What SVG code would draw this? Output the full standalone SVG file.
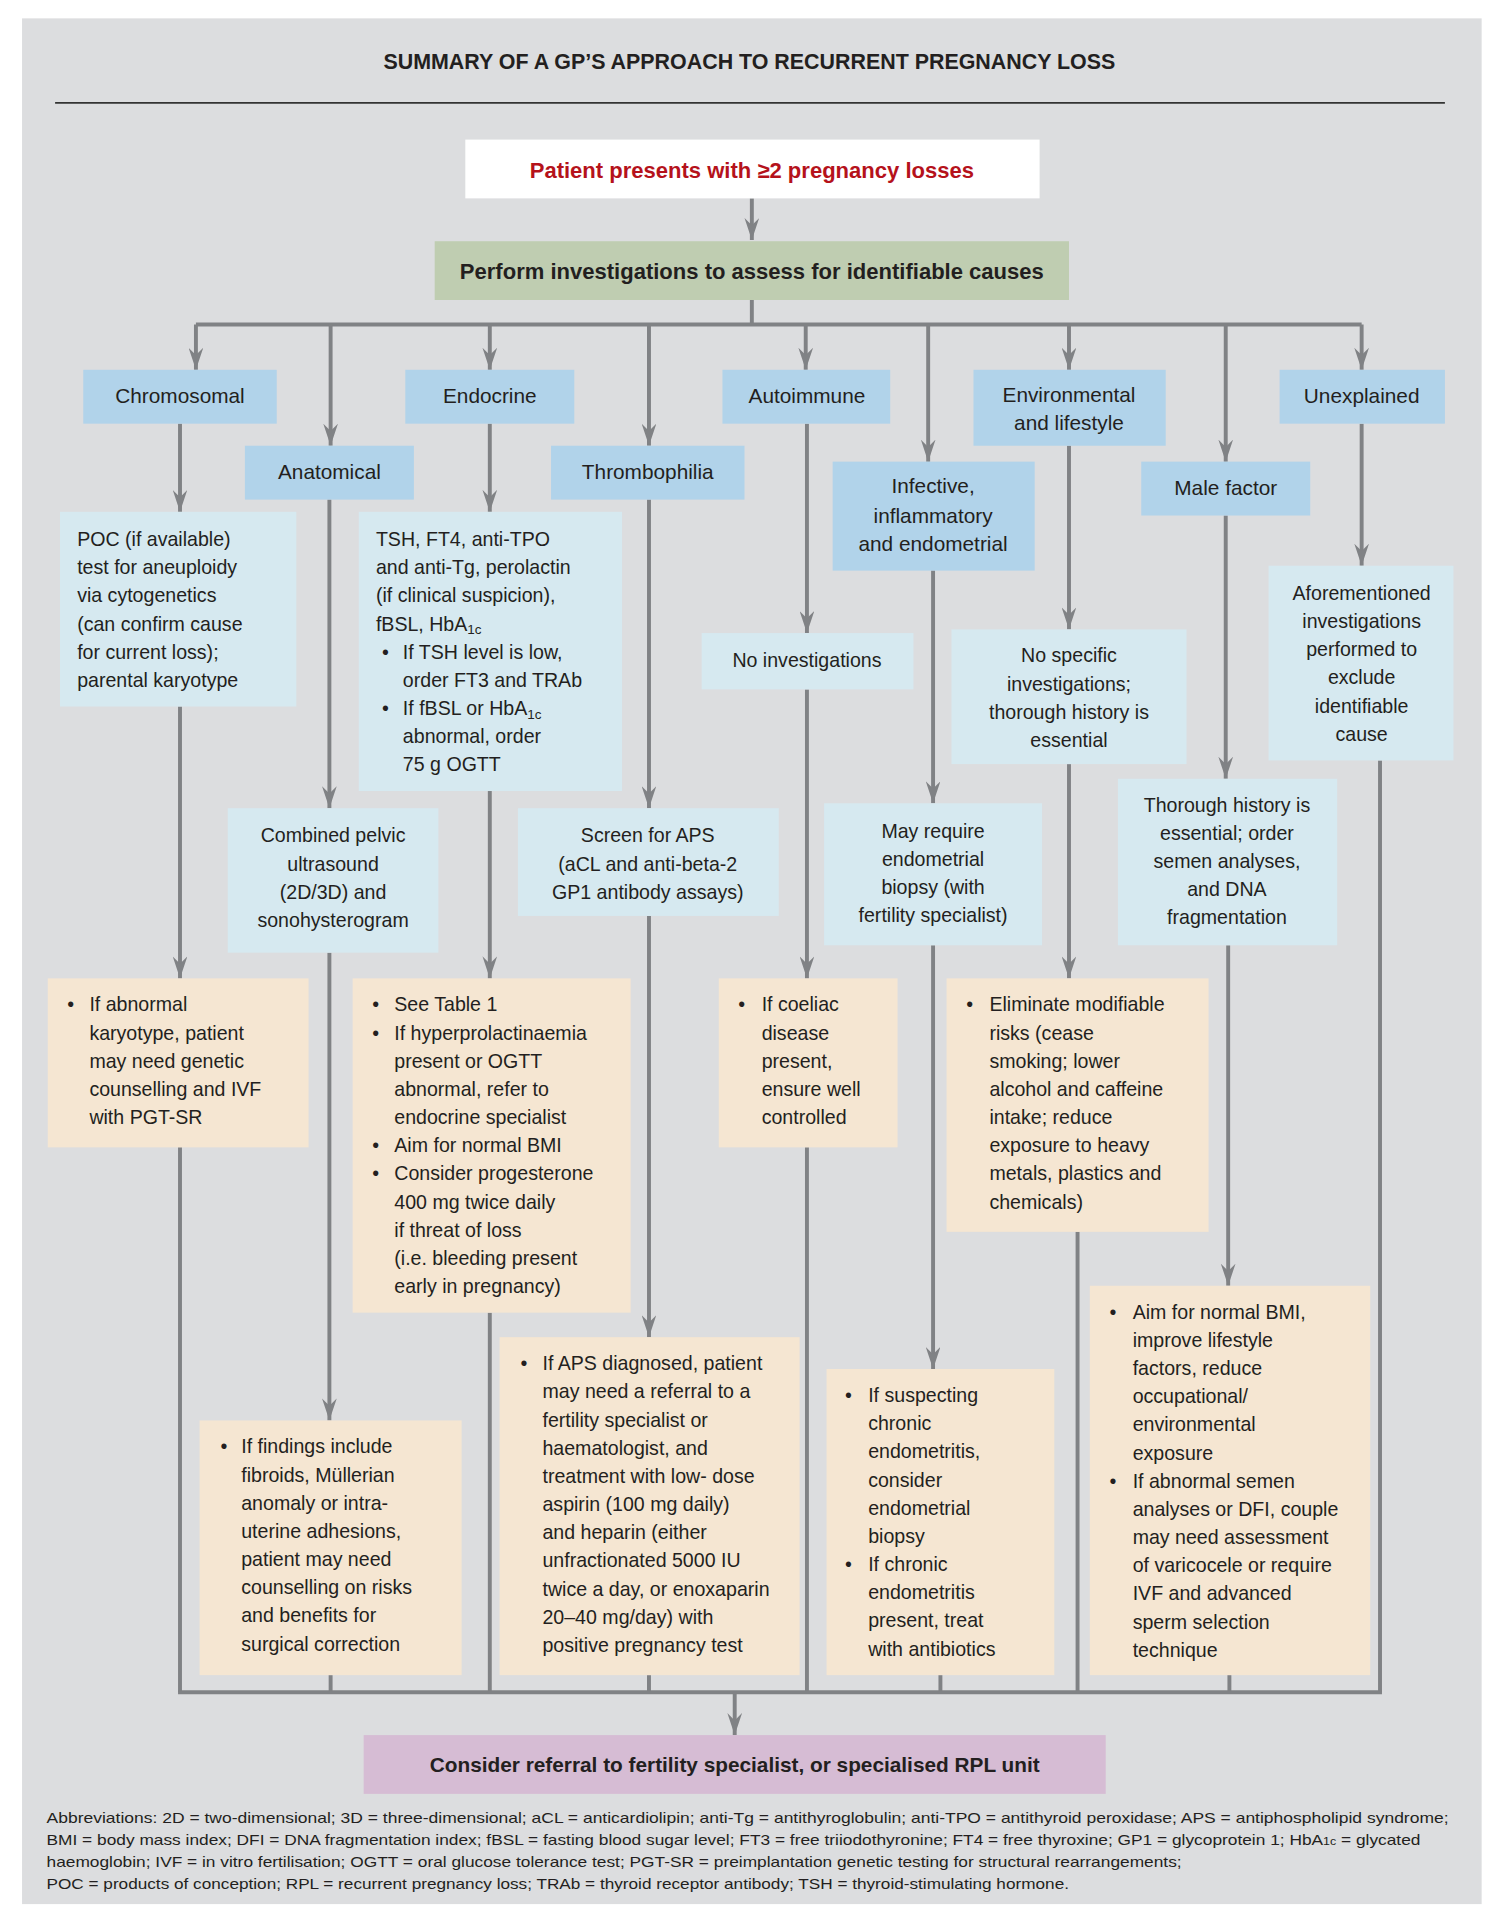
<svg xmlns="http://www.w3.org/2000/svg" width="1500" height="1916" viewBox="0 0 1500 1916">
<defs>
<marker id="ah" viewBox="0 0 18 12" refX="18" refY="6" markerWidth="18" markerHeight="12" markerUnits="userSpaceOnUse" orient="auto"><path d="M0,0 L18,6 L0,12 L6,6 Z" fill="#808285"/></marker>
<style>
text{font-family:"Liberation Sans","Noto Sans",Arial,sans-serif;font-size:16px;fill:#231f20}
.c{text-anchor:middle}
.b{font-weight:bold}
.cat{fill:#b1d3ea}
.inv{fill:#d6e9f0}
.act{fill:#f5e6d2}
.ln{stroke:#808285;stroke-width:3.2;fill:none}
.ar{stroke:#808285;stroke-width:3.2;fill:none;marker-end:url(#ah)}
.ab{font-size:12.6px}
.sub{font-size:11px}
</style>
</defs>
<g transform="scale(1.2245)">
<rect x="18" y="15" width="1192" height="1540" fill="#dcdddf"/>
<text x="612" y="56" class="c b" style="font-size:17.5px">SUMMARY OF A GP’S APPROACH TO RECURRENT PREGNANCY LOSS</text>
<line x1="45" y1="84" x2="1180" y2="84" stroke="#333" stroke-width="1.5"/>

<g id="connectors">
<path class="ar" d="M614,162 V196"/>
<path class="ln" d="M614,245 V265 M160,265 H1112"/>
<path class="ar" d="M160,265 V302"/>
<path class="ar" d="M270,265 V364"/>
<path class="ar" d="M400,265 V302"/>
<path class="ar" d="M530,265 V364"/>
<path class="ar" d="M658,265 V302"/>
<path class="ar" d="M758,265 V377"/>
<path class="ar" d="M873,265 V302"/>
<path class="ar" d="M1001,265 V377"/>
<path class="ar" d="M1112,265 V302"/>
<path class="ar" d="M147,346 V418"/>
<path class="ar" d="M147,577 V799"/>
<path class="ln" d="M147,937 V1382"/>
<path class="ar" d="M269,408 V660"/>
<path class="ar" d="M269,778 V1160"/>
<path class="ln" d="M270,1368 V1382"/>
<path class="ar" d="M400,346 V418"/>
<path class="ar" d="M400,646 V799"/>
<path class="ln" d="M400,1072 V1382"/>
<path class="ar" d="M530,408 V660"/>
<path class="ar" d="M530,748 V1092"/>
<path class="ln" d="M530,1368 V1382"/>
<path class="ar" d="M659,346 V517"/>
<path class="ar" d="M659,563 V799"/>
<path class="ln" d="M659,937 V1382"/>
<path class="ar" d="M762,466 V656"/>
<path class="ar" d="M762,772 V1118"/>
<path class="ln" d="M768,1368 V1382"/>
<path class="ar" d="M873,364 V514"/>
<path class="ar" d="M873,624 V799"/>
<path class="ln" d="M880,1006 V1382"/>
<path class="ar" d="M1001,421 V636"/>
<path class="ar" d="M1003,772 V1050"/>
<path class="ln" d="M1004,1368 V1382"/>
<path class="ar" d="M1112,346 V462"/>
<path class="ln" d="M1127,621 V1382"/>
<path class="ln" d="M145.4,1382 H1128.6"/>
<path class="ar" d="M600,1382 V1417"/>
</g>

<g id="start"><rect x="380" y="114" width="469" height="48" fill="#fff"/><text x="614" y="145" class="c b" style="font-size:18px;fill:#b5121b">Patient presents with ≥2 pregnancy losses</text></g>
<g id="investigate"><rect x="355" y="197" width="518" height="48" fill="#bfcdb1"/><text x="614" y="228" class="c b" style="font-size:18px">Perform investigations to assess for identifiable causes</text></g>

<g id="chromosomal"><rect class="cat" x="68" y="302" width="158" height="44"/><text x="147" y="329" class="c" style="font-size:17px">Chromosomal</text></g>
<g id="anatomical"><rect class="cat" x="200" y="364" width="138" height="44"/><text x="269" y="391" class="c" style="font-size:17px">Anatomical</text></g>
<g id="endocrine"><rect class="cat" x="331" y="302" width="138" height="44"/><text x="400" y="329" class="c" style="font-size:17px">Endocrine</text></g>
<g id="thrombophilia"><rect class="cat" x="450" y="364" width="158" height="44"/><text x="529" y="391" class="c" style="font-size:17px">Thrombophilia</text></g>
<g id="autoimmune"><rect class="cat" x="590" y="302" width="137" height="44"/><text x="659" y="329" class="c" style="font-size:17px">Autoimmune</text></g>
<g id="infective"><rect class="cat" x="680" y="377" width="165" height="89"/><text class="c" style="font-size:17px"><tspan x="762" y="403">Infective,</tspan><tspan x="762" y="427">inflammatory</tspan><tspan x="762" y="450">and endometrial</tspan></text></g>
<g id="environmental"><rect class="cat" x="795" y="302" width="157" height="62"/><text class="c" style="font-size:17px"><tspan x="873" y="328">Environmental</tspan><tspan x="873" y="351">and lifestyle</tspan></text></g>
<g id="male"><rect class="cat" x="932" y="377" width="138" height="44"/><text x="1001" y="404" class="c" style="font-size:17px">Male factor</text></g>
<g id="unexplained"><rect class="cat" x="1045" y="302" width="135" height="44"/><text x="1112" y="329" class="c" style="font-size:17px">Unexplained</text></g>

<g id="chrom-inv"><rect class="inv" x="49" y="418" width="193" height="159"/><text><tspan x="63" y="446">POC (if available)</tspan><tspan x="63" y="469">test for aneuploidy</tspan><tspan x="63" y="492">via cytogenetics</tspan><tspan x="63" y="515">(can confirm cause</tspan><tspan x="63" y="538">for current loss);</tspan><tspan x="63" y="561">parental karyotype</tspan></text></g>
<g id="chrom-act"><rect class="act" x="39" y="799" width="213" height="138"/><text x="55" y="826">•</text><text><tspan x="73" y="826">If abnormal</tspan><tspan x="73" y="849">karyotype, patient</tspan><tspan x="73" y="872">may need genetic</tspan><tspan x="73" y="895">counselling and IVF</tspan><tspan x="73" y="918">with PGT-SR</tspan></text></g>

<g id="anat-inv"><rect class="inv" x="186" y="660" width="172" height="118"/><text class="c"><tspan x="272" y="688">Combined pelvic</tspan><tspan x="272" y="711">ultrasound</tspan><tspan x="272" y="734">(2D/3D) and</tspan><tspan x="272" y="757">sonohysterogram</tspan></text></g>
<g id="anat-act"><rect class="act" x="163" y="1160" width="214" height="208"/><text x="180" y="1187">•</text><text><tspan x="197" y="1187">If findings include</tspan><tspan x="197" y="1210">fibroids, Müllerian</tspan><tspan x="197" y="1233">anomaly or intra-</tspan><tspan x="197" y="1256">uterine adhesions,</tspan><tspan x="197" y="1279">patient may need</tspan><tspan x="197" y="1302">counselling on risks</tspan><tspan x="197" y="1325">and benefits for</tspan><tspan x="197" y="1348">surgical correction</tspan></text></g>

<g id="endo-inv"><rect class="inv" x="293" y="418" width="215" height="228"/><text><tspan x="307" y="446">TSH, FT4, anti-TPO</tspan><tspan x="307" y="469">and anti-Tg, perolactin</tspan><tspan x="307" y="492">(if clinical suspicion),</tspan><tspan x="307" y="515">fBSL, HbA</tspan><tspan class="sub" dy="3">1c</tspan></text><text x="312" y="538">•</text><text x="312" y="584">•</text><text><tspan x="329" y="538">If TSH level is low,</tspan><tspan x="329" y="561">order FT3 and TRAb</tspan><tspan x="329" y="584">If fBSL or HbA</tspan><tspan class="sub" dy="3">1c</tspan><tspan x="329" y="607">abnormal, order</tspan><tspan x="329" y="630">75 g OGTT</tspan></text></g>
<g id="endo-act"><rect class="act" x="288" y="799" width="227" height="273"/><text x="304" y="826">•</text><text x="304" y="849">•</text><text x="304" y="941">•</text><text x="304" y="964">•</text><text><tspan x="322" y="826">See Table 1</tspan><tspan x="322" y="849">If hyperprolactinaemia</tspan><tspan x="322" y="872">present or OGTT</tspan><tspan x="322" y="895">abnormal, refer to</tspan><tspan x="322" y="918">endocrine specialist</tspan><tspan x="322" y="941">Aim for normal BMI</tspan><tspan x="322" y="964">Consider progesterone</tspan><tspan x="322" y="987">400 mg twice daily</tspan><tspan x="322" y="1010">if threat of loss</tspan><tspan x="322" y="1033">(i.e. bleeding present</tspan><tspan x="322" y="1056">early in pregnancy)</tspan></text></g>

<g id="thromb-inv"><rect class="inv" x="423" y="660" width="213" height="88"/><text class="c"><tspan x="529" y="688">Screen for APS</tspan><tspan x="529" y="711">(aCL and anti-beta-2</tspan><tspan x="529" y="734">GP1 antibody assays)</tspan></text></g>
<g id="thromb-act"><rect class="act" x="408" y="1092" width="245" height="276"/><text x="425" y="1119">•</text><text><tspan x="443" y="1119">If APS diagnosed, patient</tspan><tspan x="443" y="1142">may need a referral to a</tspan><tspan x="443" y="1165">fertility specialist or</tspan><tspan x="443" y="1188">haematologist, and</tspan><tspan x="443" y="1211">treatment with low- dose</tspan><tspan x="443" y="1234">aspirin (100 mg daily)</tspan><tspan x="443" y="1257">and heparin (either</tspan><tspan x="443" y="1280">unfractionated 5000 IU</tspan><tspan x="443" y="1303">twice a day, or enoxaparin</tspan><tspan x="443" y="1326">20–40 mg/day) with</tspan><tspan x="443" y="1349">positive pregnancy test</tspan></text></g>

<g id="auto-inv"><rect class="inv" x="573" y="517" width="173" height="46"/><text x="659" y="545" class="c">No investigations</text></g>
<g id="auto-act"><rect class="act" x="587" y="799" width="146" height="138"/><text x="603" y="826">•</text><text><tspan x="622" y="826">If coeliac</tspan><tspan x="622" y="849">disease</tspan><tspan x="622" y="872">present,</tspan><tspan x="622" y="895">ensure well</tspan><tspan x="622" y="918">controlled</tspan></text></g>

<g id="inf-inv"><rect class="inv" x="673" y="656" width="178" height="116"/><text class="c"><tspan x="762" y="684">May require</tspan><tspan x="762" y="707">endometrial</tspan><tspan x="762" y="730">biopsy (with</tspan><tspan x="762" y="753">fertility specialist)</tspan></text></g>
<g id="inf-act"><rect class="act" x="675" y="1118" width="186" height="250"/><text x="690" y="1145">•</text><text x="690" y="1283">•</text><text><tspan x="709" y="1145">If suspecting</tspan><tspan x="709" y="1168">chronic</tspan><tspan x="709" y="1191">endometritis,</tspan><tspan x="709" y="1214">consider</tspan><tspan x="709" y="1237">endometrial</tspan><tspan x="709" y="1260">biopsy</tspan><tspan x="709" y="1283">If chronic</tspan><tspan x="709" y="1306">endometritis</tspan><tspan x="709" y="1329">present, treat</tspan><tspan x="709" y="1352">with antibiotics</tspan></text></g>

<g id="env-inv"><rect class="inv" x="777" y="514" width="192" height="110"/><text class="c"><tspan x="873" y="541">No specific</tspan><tspan x="873" y="564">investigations;</tspan><tspan x="873" y="587">thorough history is</tspan><tspan x="873" y="610">essential</tspan></text></g>
<g id="env-act"><rect class="act" x="773" y="799" width="214" height="207"/><text x="789" y="826">•</text><text><tspan x="808" y="826">Eliminate modifiable</tspan><tspan x="808" y="849">risks (cease</tspan><tspan x="808" y="872">smoking; lower</tspan><tspan x="808" y="895">alcohol and caffeine</tspan><tspan x="808" y="918">intake; reduce</tspan><tspan x="808" y="941">exposure to heavy</tspan><tspan x="808" y="964">metals, plastics and</tspan><tspan x="808" y="987">chemicals)</tspan></text></g>

<g id="male-inv"><rect class="inv" x="913" y="636" width="179" height="136"/><text class="c"><tspan x="1002" y="663">Thorough history is</tspan><tspan x="1002" y="686">essential; order</tspan><tspan x="1002" y="709">semen analyses,</tspan><tspan x="1002" y="732">and DNA</tspan><tspan x="1002" y="755">fragmentation</tspan></text></g>
<g id="male-act"><rect class="act" x="890" y="1050" width="229" height="318"/><text x="906" y="1077">•</text><text x="906" y="1215">•</text><text><tspan x="925" y="1077">Aim for normal BMI,</tspan><tspan x="925" y="1100">improve lifestyle</tspan><tspan x="925" y="1123">factors, reduce</tspan><tspan x="925" y="1146">occupational/</tspan><tspan x="925" y="1169">environmental</tspan><tspan x="925" y="1192">exposure</tspan><tspan x="925" y="1215">If abnormal semen</tspan><tspan x="925" y="1238">analyses or DFI, couple</tspan><tspan x="925" y="1261">may need assessment</tspan><tspan x="925" y="1284">of varicocele or require</tspan><tspan x="925" y="1307">IVF and advanced</tspan><tspan x="925" y="1330">sperm selection</tspan><tspan x="925" y="1353">technique</tspan></text></g>

<g id="unexp-inv"><rect class="inv" x="1036" y="462" width="151" height="159"/><text class="c"><tspan x="1112" y="490">Aforementioned</tspan><tspan x="1112" y="513">investigations</tspan><tspan x="1112" y="536">performed to</tspan><tspan x="1112" y="559">exclude</tspan><tspan x="1112" y="582">identifiable</tspan><tspan x="1112" y="605">cause</tspan></text></g>

<g id="referral"><rect x="297" y="1417" width="606" height="48" fill="#d6bcd4"/><text x="600" y="1447" class="c b" style="font-size:17px">Consider referral to fertility specialist, or specialised RPL unit</text></g>

<g id="abbrev">
<text x="38" y="1489" class="ab" textLength="1145" lengthAdjust="spacingAndGlyphs">Abbreviations: 2D = two-dimensional; 3D = three-dimensional; aCL = anticardiolipin; anti-Tg = antithyroglobulin; anti-TPO = antithyroid peroxidase; APS = antiphospholipid syndrome;</text>
<text x="38" y="1507" class="ab" textLength="1122" lengthAdjust="spacingAndGlyphs">BMI = body mass index; DFI = DNA fragmentation index; fBSL = fasting blood sugar level; FT3 = free triiodothyronine; FT4 = free thyroxine; GP1 = glycoprotein 1; HbA<tspan style="font-size:9px">1c</tspan> = glycated</text>
<text x="38" y="1525" class="ab" textLength="927" lengthAdjust="spacingAndGlyphs">haemoglobin; IVF = in vitro fertilisation; OGTT = oral glucose tolerance test; PGT-SR = preimplantation genetic testing for structural rearrangements;</text>
<text x="38" y="1543" class="ab" textLength="835" lengthAdjust="spacingAndGlyphs">POC = products of conception; RPL = recurrent pregnancy loss; TRAb = thyroid receptor antibody; TSH = thyroid-stimulating hormone.</text>
</g>
</g>
</svg>
